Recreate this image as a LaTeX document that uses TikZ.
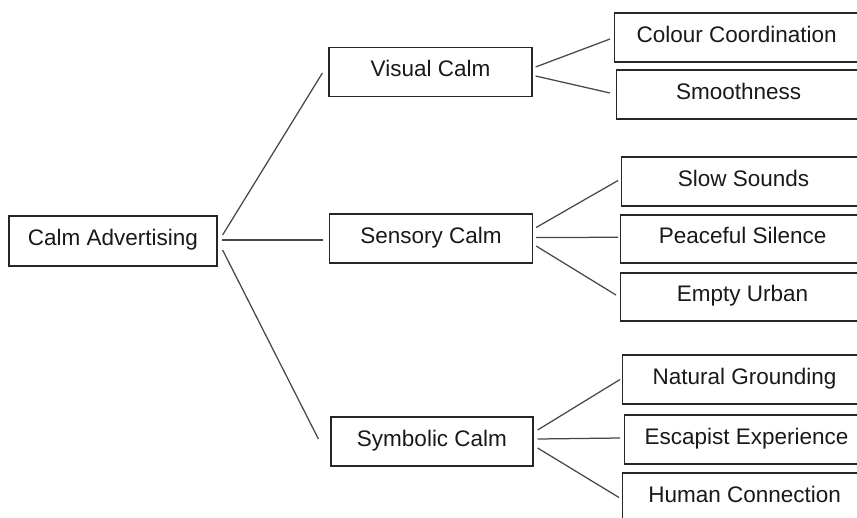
\documentclass[tikz,border=0pt]{standalone}
\usepackage{fontspec}
\setmainfont{Liberation Sans}
\usepackage{tikz}

\begin{document}
\begin{tikzpicture}[x=1pt, y=-1pt,
    box/.style={draw=black!85, line width=1.2pt, text=black!90, inner sep=0pt,
      font=\fontsize{22.5}{27}\selectfont, text height=16pt, text depth=7pt},
    midbox/.style={box, minimum width=203pt, minimum height=49pt},
    leafbox/.style={box, anchor=west, minimum width=244pt, minimum height=49pt},
    ramo/.style={draw=black!72, line width=1.25pt}]
    \useasboundingbox (0,0) rectangle (857,517);

    % Radice
    \node[box, minimum width=208pt, minimum height=50pt] (root) at (113,241) {Calm Advertising};

    % Livello intermedio
    \node[midbox] (vis) at (430.5,72) {Visual Calm};
    \node[midbox] (sen) at (431,238.5) {Sensory Calm};
    \node[midbox, minimum width=202pt] (sym) at (432,441.5) {Symbolic Calm};

    % Foglie
    \node[leafbox] (cc) at (614,37.5) {Colour Coordination};
    \node[leafbox] (sm) at (616,94.5) {Smoothness};
    \node[leafbox] (ss) at (621,181.5) {Slow Sounds};
    \node[leafbox, minimum height=48pt] (ps) at (620,239) {Peaceful Silence};
    \node[leafbox, minimum height=48pt] (eu) at (620,297) {Empty Urban};
    \node[leafbox] (ng) at (622,379.5) {Natural Grounding};
    \node[leafbox] (ee) at (624,439.5) {Escapist Experience};
    \node[leafbox] (hc) at (622,497.5) {Human Connection};

    % Rami dalla radice
    \draw[ramo] ([xshift=5pt,yshift=6pt]root.east) -- ([xshift=-6pt,yshift=-1pt]vis.west);
    \draw[ramo] ([xshift=4pt,yshift=1pt]root.east) -- ([xshift=-6pt,yshift=-1.5pt]sen.west);
    \draw[ramo] ([xshift=5pt,yshift=-9pt]root.east) -- ([xshift=-12pt,yshift=2.5pt]sym.west);

    % Rami verso le foglie
    \draw[ramo] ([xshift=3pt,yshift=5pt]vis.east) -- ([xshift=-4pt,yshift=-1.5pt]cc.west);
    \draw[ramo] ([xshift=3pt,yshift=-4pt]vis.east) -- ([xshift=-6pt,yshift=1.5pt]sm.west);
    \draw[ramo] ([xshift=3pt,yshift=11pt]sen.east) -- ([xshift=-3pt,yshift=1pt]ss.west);
    \draw[ramo] ([xshift=3pt,yshift=1pt]sen.east) -- ([xshift=-2pt,yshift=1.7pt]ps.west);
    \draw[ramo] ([xshift=3pt,yshift=-7.5pt]sen.east) -- ([xshift=-4pt,yshift=2pt]eu.west);
    \draw[ramo] ([xshift=4pt,yshift=11.5pt]sym.east) -- ([xshift=-2pt]ng.west);
    \draw[ramo] ([xshift=4pt,yshift=2.5pt]sym.east) -- ([xshift=-4pt,yshift=1.5pt]ee.west);
    \draw[ramo] ([xshift=4pt,yshift=-6.5pt]sym.east) -- ([xshift=-3pt]hc.west);
\end{tikzpicture}
\end{document}
